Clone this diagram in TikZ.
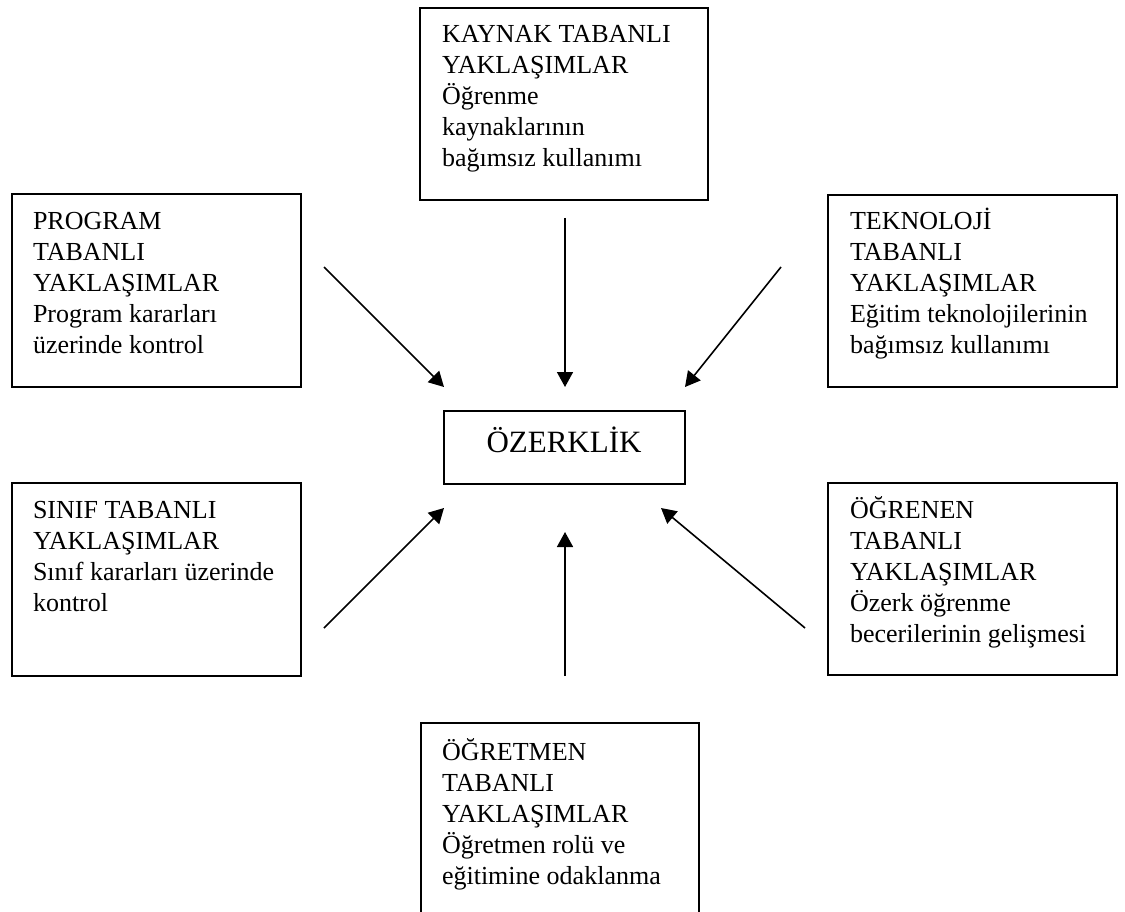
\documentclass[tikz,border=0pt]{standalone}
\usepackage{fontspec}
\setmainfont{Liberation Serif}
\usetikzlibrary{arrows.meta}

% multi-line box text whose baseline is the first line
\newcommand{\btext}[1]{\begin{minipage}[t]{280pt}\fontsize{26}{31}\selectfont\raggedright #1\end{minipage}}

\tikzset{
  frame/.style={draw, line width=1.6pt, inner sep=0pt, outer sep=0pt, anchor=north west, rectangle},
  txt/.style={anchor=base west, inner sep=0pt, outer sep=0pt},
  conn/.style={line width=1.6pt, -{Triangle[length=15pt,width=16pt]}}
}

\begin{document}
\begin{tikzpicture}[x=1pt,y=-1pt]
\clip (0,0) rectangle (1125,912);
\fill[white] (0,0) rectangle (1125,912);

% outer boxes
\node[frame, minimum width=288pt, minimum height=192pt] (kaynak) at (420,8) {};
\node[frame, minimum width=289pt, minimum height=193pt] (program) at (12,194) {};
\node[frame, minimum width=289pt, minimum height=192pt] (teknoloji) at (828,195) {};
\node[frame, minimum width=289pt, minimum height=193pt] (sinif) at (12,483) {};
\node[frame, minimum width=289pt, minimum height=192pt] (ogrenen) at (828,483) {};
\node[frame, minimum width=278pt, minimum height=260pt] (ogretmen) at (421,723) {};

% centre box
\node[frame, minimum width=241pt, minimum height=73pt] (ozerklik) at (444,411) {};
\node[anchor=base, inner sep=0pt, font=\fontsize{31}{36}\selectfont] (ozerklikT) at (564,452) {ÖZERKLİK};

% box texts
\node[txt] (kaynakT) at (442,43) {\btext{KAYNAK TABANLI\\YAKLAŞIMLAR\\Öğrenme\\kaynaklarının\\bağımsız kullanımı}};
\node[txt] (programT) at (33,230) {\btext{PROGRAM\\TABANLI\\YAKLAŞIMLAR\\Program kararları\\üzerinde kontrol}};
\node[txt] (teknolojiT) at (850,230) {\btext{TEKNOLOJİ\\TABANLI\\YAKLAŞIMLAR\\Eğitim teknolojilerinin\\bağımsız kullanımı}};
\node[txt] (sinifT) at (33,518) {\btext{SINIF TABANLI\\YAKLAŞIMLAR\\Sınıf kararları üzerinde\\kontrol}};
\node[txt] (ogrenenT) at (850,518) {\btext{ÖĞRENEN\\TABANLI\\YAKLAŞIMLAR\\Özerk öğrenme\\becerilerinin gelişmesi}};
\node[txt] (ogretmenT) at (442,760) {\btext{ÖĞRETMEN\\TABANLI\\YAKLAŞIMLAR\\Öğretmen rolü ve\\eğitimine odaklanma}};

% arrow end points
\coordinate (s1) at (324,267);  \coordinate (e1) at (444,387);
\coordinate (s2) at (565,218);  \coordinate (e2) at (565,387);
\coordinate (s3) at (781,267);  \coordinate (e3) at (685,387);
\coordinate (s4) at (324,628);  \coordinate (e4) at (444,508);
\coordinate (s5) at (565,676);  \coordinate (e5) at (565,532);
\coordinate (s6) at (805,628);  \coordinate (e6) at (661,508);

\draw[conn] (s1) -- (e1);
\draw[conn] (s2) -- (e2);
\draw[conn] (s3) -- (e3);
\draw[conn] (s4) -- (e4);
\draw[conn] (s5) -- (e5);
\draw[conn] (s6) -- (e6);
\end{tikzpicture}
\end{document}
